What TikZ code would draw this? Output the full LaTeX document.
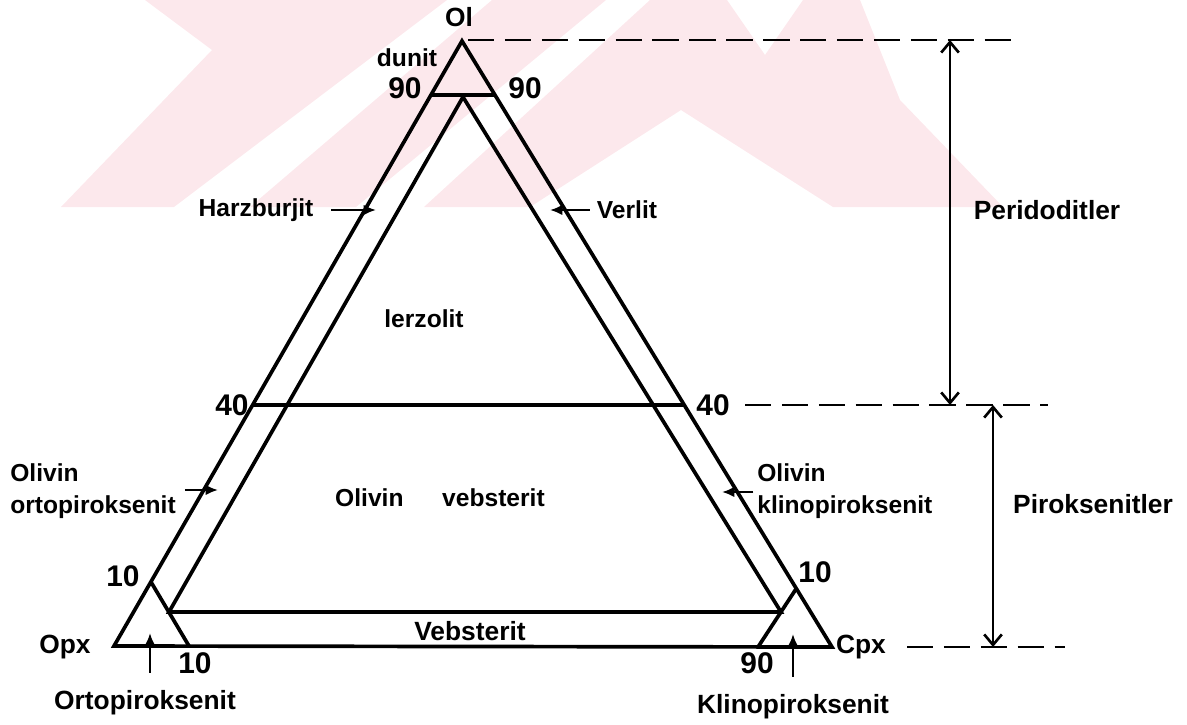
\documentclass[tikz,border=0pt]{standalone}
\usepackage{fontspec}
\setmainfont{Liberation Sans}
\usetikzlibrary{arrows.meta,calc}
\definecolor{wmpink}{RGB}{252,232,236}
\begin{document}
\begin{tikzpicture}[x=0.02cm,y=-0.02cm,
  tri/.style={line width=2.1pt, line join=miter},
  lbl/.style={font=\fontsize{14}{18}\selectfont\bfseries, inner sep=0pt},
  num/.style={font=\fontsize{17}{19}\selectfont\bfseries, inner sep=0pt},
  big/.style={font=\fontsize{15}{17}\selectfont\bfseries, inner sep=0pt},
  ptr/.style={line width=1.3pt, -{Latex[length=7pt,width=6pt]}},
  dim/.style={line width=1.5pt, {Straight Barb[length=6pt,width=10pt]}-{Straight Barb[length=6pt,width=10pt]}},
  dsh/.style={line width=1.6pt, dash pattern=on 15pt off 6pt},
  wm/.style={fill=wmpink, draw=none},
]
\path[use as bounding box] (0,0) rectangle (1187,724);

% faint background watermark
\path[wm] (145,0) -- (447,0) -- (174,207) -- (61,207) -- (212,50) -- cycle;
\path[wm] (492,0) -- (606,0) -- (356,207) -- (250,207) -- cycle;
\path[wm] (424,207) -- (650,0) -- (727,0) -- (765,55) -- (803,0) -- (860,0)
  -- (900,100) -- (1003,207) -- (833,207) -- (681,110) -- (530,207) -- cycle;

% triangle geometry
\coordinate (A) at (462,41);
\coordinate (L) at (114,646);
\coordinate (R) at (832,647);
\coordinate (d1) at (431,95);
\coordinate (d2) at (495,95);
\coordinate (I) at (463,97);
\coordinate (iL) at (169,612);
\coordinate (iR) at (781,612);
\coordinate (f1) at (252,405);
\coordinate (f2) at (685,405);
\coordinate (sL) at (151,582);
\coordinate (sLb) at (189,646);
\coordinate (sR) at (796,589);
\coordinate (sRb) at (758,647);

\draw[tri] (L) -- (A) -- (R) -- cycle;
\draw[tri] (d1) -- (d2);
\draw[tri] (I) -- (iR) -- (iL) -- cycle;
\draw[tri] (f1) -- (f2);
\draw[tri] (sL) -- (sLb);
\draw[tri] (sR) -- (sRb);

% labels
\node[big] (ol) at (459,17) {Ol};
\node[lbl] (dunit) at (407,58) {dunit};
\node[num] (n90a) at (405,88) {90};
\node[num] (n90b) at (525,88) {90};
\node[lbl] (harz) at (256,210) {Harzburjit};
\node[lbl] (verl) at (627,210) {Verlit};
\node[lbl] (lerz) at (424,319) {lerzolit};
\node[num] (n40a) at (232,405) {40};
\node[num] (n40b) at (713,405) {40};
\node[lbl, anchor=west, align=left] (oop) at (10,491) {Olivin\\ortopiroksenit};
\node[lbl, anchor=west, align=left] (okp) at (757,491) {Olivin\\klinopiroksenit};
\node[lbl] (ov) at (440,498) {Olivin\hspace{22pt}vebsterit};
\node[num] (n10a) at (123,576) {10};
\node[num] (n10b) at (195,663) {10};
\node[num] (n90c) at (757,663) {90};
\node[num] (n10c) at (815,572) {10};
\node[big] (opx) at (65,647) {Opx};
\node[big] (cpx) at (861,647) {Cpx};
\node[big] (veb) at (470,631) {Vebsterit};
\node[big] (orto) at (145,703) {Ortopiroksenit};
\node[big] (klino) at (793,707) {Klinopiroksenit};
\node[big] (peri) at (1047,210) {Peridoditler};
\node[big] (pirok) at (1093,504) {Piroksenitler};

% pointer arrows
\coordinate (harzT) at (376,210);
\coordinate (verlT) at (550,210);
\coordinate (oopT) at (218,490);
\coordinate (okpT) at (722,492);
\coordinate (ortoT) at (150,633);
\coordinate (klinoT) at (793,634);
\draw[ptr, shorten <=10pt] (harz.east) -- (harzT);
\draw[ptr, shorten <=4pt] (verl.west) -- (verlT);
\draw[ptr, shorten <=5pt] (oop.east |- oopT) -- (oopT);
\draw[ptr, shorten <=2pt] (okp.west |- okpT) -- (okpT);
\draw[ptr, shorten <=10pt] (orto.north -| ortoT) -- (ortoT);
\draw[ptr, shorten <=10pt] (klino.north -| klinoT) -- (klinoT);

% dimension arrows
\coordinate (t1) at (950,40);
\coordinate (t2) at (950,405);
\coordinate (p1) at (993,405);
\coordinate (p2) at (993,647);
\draw[dim] (t1) -- (t2);
\draw[dim] (p1) -- (p2);

% dashed guide lines
\coordinate (g1) at (468,40);
\coordinate (g2) at (1015,40);
\coordinate (g3) at (745,405);
\coordinate (g4) at (1048,405);
\coordinate (g5) at (907,647);
\coordinate (g6) at (1065,647);
\draw[dsh] (g1) -- (g2);
\draw[dsh] (g3) -- (g4);
\draw[dsh] (g5) -- (g6);
\end{tikzpicture}
\end{document}
